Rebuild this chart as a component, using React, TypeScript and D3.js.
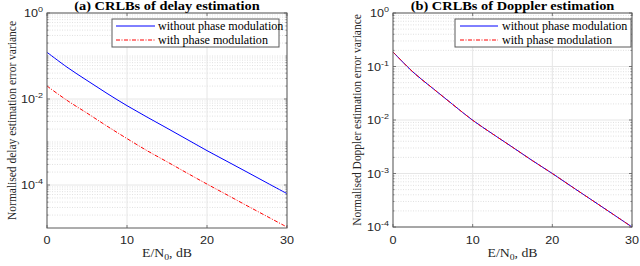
import React from "react";
import * as d3 from "d3";

const snrDb = [0, 2.5, 5, 7.5, 10, 12.5, 15, 17.5, 20, 22.5, 25, 27.5, 30];
const delayWithout = [0.122, 0.055, 0.027, 0.0135, 0.007, 0.0038, 0.0021, 0.00115, 0.00063, 0.000355, 0.0002, 0.000112, 0.000063];
const delayWith = [0.02, 0.0093, 0.0047, 0.00234, 0.0012, 0.00063, 0.000347, 0.00019, 0.000105, 0.000059, 0.000033, 0.0000186, 0.0000105];
const dopplerWithout = [0.187, 0.079, 0.039, 0.0195, 0.0099, 0.0055, 0.0031, 0.00174, 0.001, 0.00056, 0.000316, 0.000178, 0.0001];
const dopplerWith = [0.187, 0.079, 0.039, 0.0195, 0.0099, 0.0055, 0.0031, 0.00174, 0.001, 0.00056, 0.000316, 0.000178, 0.0001];
const xTicks = [0, 10, 20, 30];
const legendLabels = ["without phase modulation", "with phase modulation"];

const SANS = "'Liberation Sans', Arial, sans-serif";
const SERIF = "'Liberation Serif', 'Times New Roman', serif";
const AXIS = "#5a5a5a";

type PanelProps = {
  x0: number; x1: number; y0: number; y1: number;
  yMin: number; yMajor: number[];
  title: string; ylabel: string; ylabelX: number;
  s1: number[]; s2: number[];
  legend: { x0: number; x1: number; lineX0: number; lineX1: number; textX: number };
};

function Panel(p: PanelProps) {
  const x = d3.scaleLinear().domain([0, 30]).range([p.x0, p.x1]);
  const y = d3.scaleLog().domain([p.yMin, 1]).range([p.y1, p.y0]);
  const line = d3.line<number>().x((_, i) => x(snrDb[i])).y((v) => y(v)).curve(d3.curveCatmullRom.alpha(0.5));
  const minor: number[] = [];
  const lo = Math.round(Math.log10(p.yMin));
  for (let e = lo; e < 0; e++) {
    for (let k = 1; k <= 9; k++) {
      const v = k * Math.pow(10, e);
      if (k === 1 && e === lo) continue;
      if (p.yMajor.some((m) => Math.abs(m - v) / v < 1e-9)) continue;
      minor.push(v);
    }
  }
  const cx = (p.x0 + p.x1) / 2;
  const cy = (p.y0 + p.y1) / 2;
  return (
    <g>
      {minor.map((v, i) => (
        <line key={"mg" + i} x1={p.x0} x2={p.x1} y1={y(v)} y2={y(v)} stroke="#d9d9d9" strokeWidth={0.8} strokeDasharray="1,1.5" />
      ))}
      {p.yMajor.map((v, i) => (
        <line key={"Mg" + i} x1={p.x0} x2={p.x1} y1={y(v)} y2={y(v)} stroke="#e6e6e6" strokeWidth={1} />
      ))}
      {xTicks.map((t, i) => (
        <line key={"xg" + i} x1={x(t)} x2={x(t)} y1={p.y0} y2={p.y1} stroke="#e6e6e6" strokeWidth={1} />
      ))}
      {minor.map((v, i) => (
        <g key={"mt" + i}>
          <line x1={p.x0} x2={p.x0 + 1.5} y1={y(v)} y2={y(v)} stroke={AXIS} strokeWidth={0.7} />
          <line x1={p.x1} x2={p.x1 - 1.5} y1={y(v)} y2={y(v)} stroke={AXIS} strokeWidth={0.7} />
        </g>
      ))}
      {p.yMajor.map((v, i) => (
        <g key={"Mt" + i}>
          <line x1={p.x0} x2={p.x0 + 3} y1={y(v)} y2={y(v)} stroke={AXIS} strokeWidth={0.8} />
          <line x1={p.x1} x2={p.x1 - 3} y1={y(v)} y2={y(v)} stroke={AXIS} strokeWidth={0.8} />
        </g>
      ))}
      {xTicks.map((t, i) => (
        <g key={"xt" + i}>
          <line x1={x(t)} x2={x(t)} y1={p.y1} y2={p.y1 - 3} stroke={AXIS} strokeWidth={0.8} />
          <line x1={x(t)} x2={x(t)} y1={p.y0} y2={p.y0 + 3} stroke={AXIS} strokeWidth={0.8} />
        </g>
      ))}
      <path d={line(p.s1) || ""} fill="none" stroke="#0000ff" strokeWidth={1} />
      <path d={line(p.s2) || ""} fill="none" stroke="#ff0000" strokeWidth={1} strokeDasharray="4,1.5,1,1.5" />
      <rect x={p.x0} y={p.y0} width={p.x1 - p.x0} height={p.y1 - p.y0} fill="none" stroke={AXIS} strokeWidth={1} />
      <rect x={p.legend.x0} y={19} width={p.legend.x1 - p.legend.x0} height={28} fill="#fff" stroke={AXIS} strokeWidth={1} />
      <line x1={p.legend.lineX0} x2={p.legend.lineX1} y1={26} y2={26} stroke="#0000ff" strokeWidth={1} />
      <line x1={p.legend.lineX0} x2={p.legend.lineX1} y1={40} y2={40} stroke="#ff0000" strokeWidth={1} strokeDasharray="4,1.5,1,1.5" />
      {legendLabels.map((l, i) => (
        <g key={"lg" + i} transform={`translate(${p.legend.textX},${30 + i * 14}) scale(1.05,1)`}>
          <text fontFamily={SERIF} fontSize={11.5} fill="#000">{l}</text>
        </g>
      ))}
      {xTicks.map((t, i) => (
        <g key={"xl" + i} transform={`translate(${x(t)},244) scale(1.2,1)`}>
          <text textAnchor="middle" fontFamily={SANS} fontSize={10.5} fill="#262626">{t}</text>
        </g>
      ))}
      {p.yMajor.map((v, i) => (
        <g key={"yl" + i} transform={`translate(${p.x0 - 4},${y(v) + 4}) scale(1.2,1)`}>
          <text textAnchor="end" fontFamily={SANS} fontSize={10.5} fill="#262626">
            10<tspan fontSize={7.5} dy={-5}>{Math.round(Math.log10(v))}</tspan>
          </text>
        </g>
      ))}
      <g transform={`translate(${cx},10) scale(1.2,1)`}>
        <text textAnchor="middle" fontFamily={SERIF} fontWeight="bold" fontSize={12} fill="#000">{p.title}</text>
      </g>
      <g transform={`translate(${cx},257) scale(1.15,1)`}>
        <text textAnchor="middle" fontFamily={SERIF} fontSize={12} fill="#262626">
          E/N<tspan fontSize={8.5} dy={3}>0</tspan><tspan dy={-3}>, dB</tspan>
        </text>
      </g>
      <g transform={`translate(${p.ylabelX},${cy}) scale(1.15,1) rotate(-90)`}>
        <text textAnchor="middle" fontFamily={SERIF} fontSize={11.5} fill="#262626">{p.ylabel}</text>
      </g>
    </g>
  );
}

export default function App() {
  return (
    <svg width={640} height={266} style={{ position: "absolute", left: 0, top: 0, background: "#fff" }}>
      <rect x={0} y={0} width={640} height={266} fill="#fff" />
      <Panel
        x0={47} x1={287} y0={13} y1={228} yMin={1e-5} yMajor={[1, 1e-2, 1e-4]}
        title="(a) CRLBs of delay estimation" ylabel="Normalised delay estimation error variance" ylabelX={16}
        s1={delayWithout} s2={delayWith}
        legend={{ x0: 112, x1: 279, lineX0: 116, lineX1: 155, textX: 158 }}
      />
      <Panel
        x0={393} x1={632} y0={13} y1={227} yMin={1e-4} yMajor={[1, 1e-1, 1e-2, 1e-3, 1e-4]}
        title="(b) CRLBs of Doppler estimation" ylabel="Normalised Doppler estimation error variance" ylabelX={361}
        s1={dopplerWithout} s2={dopplerWith}
        legend={{ x0: 455, x1: 631, lineX0: 460, lineX1: 498, textX: 502 }}
      />
    </svg>
  );
}
